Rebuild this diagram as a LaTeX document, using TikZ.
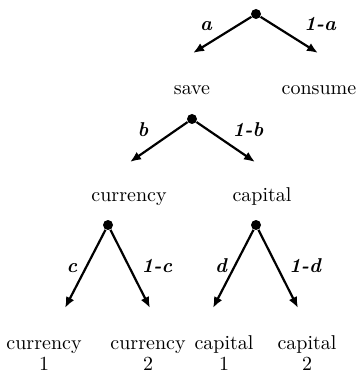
\documentclass[tikz,border=0pt]{standalone}
\usetikzlibrary{arrows.meta}
\begin{document}
\begin{tikzpicture}[x=0.5pt,y=-0.5pt,
  dotnode/.style={circle,fill=black,inner sep=0pt,minimum size=5pt},
  branch/.style={-{Latex[length=5.5pt,width=4.5pt]},line width=1.1pt},
  prob/.style={font=\fontsize{10}{10.5}\selectfont\bfseries\itshape,inner sep=0pt,anchor=base},
  word/.style={font=\fontsize{10}{10.5}\selectfont,inner sep=0pt,anchor=base},
  leaf/.style={font=\fontsize{10}{10.5}\selectfont,inner sep=0pt,align=center,anchor=south}]
\useasboundingbox (0,0) rectangle (357,373);
% level 1
\node[dotnode] (d1) at (256,14) {};
\coordinate (t1) at (193,53);
\coordinate (t2) at (318,53);
\draw[branch] (d1) -- (t1);
\draw[branch] (d1) -- (t2);
\node[prob] (la) at (206,31) {a};
\node[prob] (l1a) at (320,31) {1-a};
\node[word] (save) at (192,95) {save};
\node[word] (consume) at (319,95) {consume};
% level 2
\node[dotnode] (d2) at (192,119) {};
\coordinate (t3) at (130,162);
\coordinate (t4) at (255,162);
\draw[branch] (d2) -- (t3);
\draw[branch] (d2) -- (t4);
\node[prob] (lb) at (143,137) {b};
\node[prob] (l1b) at (248,137) {1-b};
\node[word] (currency) at (129,201) {currency};
\node[word] (capital) at (262,201) {capital};
% level 3
\node[dotnode] (d3) at (108,225) {};
\coordinate (t5) at (65,308);
\coordinate (t6) at (150,308);
\draw[branch] (d3) -- (t5);
\draw[branch] (d3) -- (t6);
\node[prob] (lc) at (72,272) {c};
\node[prob] (l1c) at (157,272) {1-c};
\node[dotnode] (d4) at (256,225) {};
\coordinate (t7) at (213,308);
\coordinate (t8) at (298,308);
\draw[branch] (d4) -- (t7);
\draw[branch] (d4) -- (t8);
\node[prob] (ld) at (221,272) {d};
\node[prob] (l1d) at (305,272) {1-d};
% leaves
\node[leaf] (cur1) at (44,371) {currency\\1};
\node[leaf] (cur2) at (148,371) {currency\\2};
\node[leaf] (cap1) at (224,371) {capital\\1};
\node[leaf] (cap2) at (307,371) {capital\\2};
\end{tikzpicture}
\end{document}
